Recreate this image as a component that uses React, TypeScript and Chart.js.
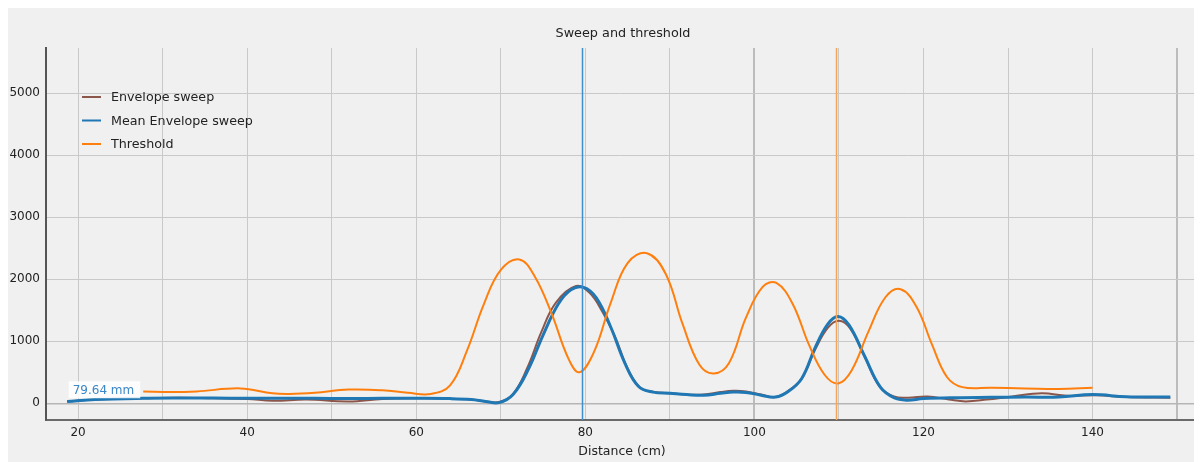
import React, { useEffect, useRef } from "react";
import { Chart, registerables } from "chart.js";

Chart.register(...registerables);

const chartTitle = "Sweep and threshold";
const xAxisTitle = "Distance (cm)";
const markerLabel = "79.64 mm";
const markerBlueX = 79.64;
const markerOrangeX = 109.7;

const xGridTicks = [20, 30, 40, 50, 60, 70, 80, 90, 100, 110, 120, 130, 140, 150];
const yTicks = [0, 1000, 2000, 3000, 4000, 5000];

const envX = [18.7, 22, 27.7, 32, 36, 40, 43, 47, 52, 56, 60, 64, 66.5, 68.2, 69.8, 71.4, 73.1, 74.8, 76.5, 78.9, 80.5, 82, 83.5, 85, 86.5, 88.2, 90, 92, 94, 96, 97.5, 99, 100.8, 102.5, 104, 105.6, 107.2, 108.7, 110, 111.3, 113, 114.8, 116.5, 118.2, 120.5, 123, 125, 127.5, 130.5, 134, 137, 140.5, 144, 149.2];
const envY = [30, 60, 80, 90, 80, 70, 40, 60, 30, 70, 80, 75, 60, 30, 20, 140, 560, 1150, 1620, 1890, 1780, 1480, 1080, 560, 250, 180, 160, 140, 140, 180, 200, 190, 140, 100, 200, 400, 870, 1220, 1330, 1210, 760, 270, 110, 90, 110, 60, 30, 60, 110, 160, 120, 130, 100, 90];

const meanX = [18.7, 22, 27.7, 32, 36, 40, 44, 48, 52, 56, 60, 64, 66.5, 68.2, 69.8, 71.5, 73.3, 75, 76.8, 78.3, 79.8, 81.3, 83, 84.7, 86.3, 88, 90, 92, 94, 96, 97.5, 99, 100.8, 102.5, 104, 105.6, 107.2, 108.7, 109.9, 111.2, 113, 114.9, 116.5, 118, 120, 124, 128, 132, 136, 140, 144, 149.2];
const meanY = [30, 60, 80, 85, 85, 80, 80, 80, 75, 80, 80, 75, 60, 30, 10, 150, 560, 1100, 1600, 1830, 1870, 1700, 1230, 640, 270, 180, 160, 140, 130, 160, 180, 175, 130, 100, 190, 400, 900, 1280, 1400, 1260, 770, 260, 90, 50, 75, 90, 95, 100, 100, 140, 105, 100];

const thrX = [27.7, 31, 34, 39.2, 43, 45, 48, 52, 56, 59, 61.7, 64, 66, 68, 70, 72.2, 74, 76, 78, 79.3, 81, 83, 85, 87.3, 89.5, 91.5, 93.5, 95.2, 97, 99, 101, 102.6, 104.5, 106.5, 108.3, 109.9, 111.5, 113.5, 115.5, 117.3, 119.2, 121, 122.8, 124.6, 128, 132, 136, 140];
const thrY = [190, 180, 190, 240, 160, 150, 170, 220, 210, 170, 150, 290, 850, 1600, 2150, 2320, 2050, 1450, 720, 500, 820, 1620, 2260, 2420, 2090, 1280, 620, 480, 650, 1380, 1880, 1940, 1610, 930, 460, 320, 530, 1160, 1710, 1840, 1550, 950, 420, 260, 250, 240, 230, 250];

const seriesNames = ["Envelope sweep", "Mean Envelope sweep", "Threshold"];
const seriesColors = ["#8c564b", "#1f77b4", "#ff7f0e"];

const FONT = "'DejaVu Sans', sans-serif";

const zip = (xs: number[], ys: number[]) => xs.map((x, i) => ({ x, y: ys[i] }));

const overlayPlugin = {
  id: "overlay",
  afterDatasetsDraw(chart: any) {
    const { ctx, chartArea, scales } = chart;
    const xs = scales.x;
    const ys = scales.y;
    ctx.save();
    const drawV = (v: number, color: string) => {
      const px = Math.round(xs.getPixelForValue(v)) + 0.5;
      ctx.strokeStyle = color;
      ctx.lineWidth = 1.5;
      ctx.beginPath();
      ctx.moveTo(px, chartArea.top);
      ctx.lineTo(px, chartArea.bottom);
      ctx.stroke();
    };
    drawV(markerBlueX, "#3d8fd1");
    drawV(markerOrangeX, "#f5a55a");

    ctx.font = `12px ${FONT}`;
    const lx = xs.getPixelForValue(19) - 1;
    const ly = ys.getPixelForValue(0) - 5;
    const tw = ctx.measureText(markerLabel).width;
    ctx.fillStyle = "rgba(255,255,255,0.85)";
    ctx.fillRect(lx, ly - 17, tw + 10, 17);
    ctx.fillStyle = "#3a86c8";
    ctx.textBaseline = "alphabetic";
    ctx.textAlign = "left";
    ctx.fillText(markerLabel, lx + 4, ly - 4);

    const legX = chartArea.left + 36;
    const legY = chartArea.top + 49;
    seriesNames.forEach((name, i) => {
      const y = legY + i * 23.5;
      ctx.strokeStyle = seriesColors[i];
      ctx.lineWidth = 2;
      ctx.beginPath();
      ctx.moveTo(legX, y);
      ctx.lineTo(legX + 19, y);
      ctx.stroke();
      ctx.fillStyle = "#222";
      ctx.textBaseline = "middle";
      ctx.font = `12.7px ${FONT}`;
      ctx.fillText(name, legX + 29, y + 1);
    });

    const cx = (chartArea.left + chartArea.right) / 2;
    ctx.textAlign = "center";
    ctx.textBaseline = "middle";
    ctx.fillStyle = "#222";
    ctx.font = `12.8px ${FONT}`;
    ctx.fillText(chartTitle, cx + 3, chartArea.top - 14);
    ctx.font = `12.5px ${FONT}`;
    ctx.fillText(xAxisTitle, cx + 2, chartArea.bottom + 32);
    ctx.restore();
  },
};

export default function App() {
  const ref = useRef<HTMLCanvasElement | null>(null);
  useEffect(() => {
    if (!ref.current) return;
    const chart = new Chart(ref.current, {
      type: "line",
      data: {
        datasets: [
          {
            label: seriesNames[0],
            data: zip(envX, envY),
            borderColor: seriesColors[0],
            borderWidth: 2,
            pointRadius: 0,
            tension: 0.4,
            order: 2,
          },
          {
            label: seriesNames[1],
            data: zip(meanX, meanY),
            borderColor: seriesColors[1],
            borderWidth: 3,
            pointRadius: 0,
            tension: 0.4,
            order: 1,
          },
          {
            label: seriesNames[2],
            data: zip(thrX, thrY),
            borderColor: seriesColors[2],
            borderWidth: 2,
            pointRadius: 0,
            tension: 0.4,
            order: 0,
          },
        ],
      },
      options: {
        animation: false,
        responsive: true,
        maintainAspectRatio: false,
        layout: { padding: { left: 0, top: 40, right: 8, bottom: 0 } },
        plugins: {
          legend: { display: false },
          tooltip: { enabled: false },
          title: { display: false },
        },
        scales: {
          x: {
            type: "linear",
            min: 16.2,
            max: 152,
            afterBuildTicks: (s: any) => {
              s.ticks = xGridTicks.map((v) => ({ value: v }));
            },
            afterFit: (s: any) => {
              s.height = 42;
            },
            ticks: {
              autoSkip: false,
              maxRotation: 0,
              padding: 6,
              color: "#222",
              font: { family: FONT, size: 12 },
              callback: (v: any) => (Number(v) % 20 === 0 ? String(v) : ""),
            },
            grid: {
              drawTicks: false,
              color: (c: any) =>
                c.tick && (c.tick.value === 100 || c.tick.value === 150) ? "#bcbcbc" : "#c9c9c9",
              lineWidth: (c: any) =>
                c.tick && (c.tick.value === 100 || c.tick.value === 150) ? 2 : 1,
            },
            border: { display: true, color: "#6a6a6a", width: 2 },
          },
          y: {
            type: "linear",
            min: -270,
            max: 5730,
            afterBuildTicks: (s: any) => {
              s.ticks = yTicks.map((v) => ({ value: v }));
            },
            afterFit: (s: any) => {
              s.width = 41;
            },
            ticks: {
              padding: 6,
              color: "#222",
              font: { family: FONT, size: 12 },
              callback: (v: any) => String(v),
            },
            grid: {
              drawTicks: false,
              color: (c: any) => (c.tick && c.tick.value === 0 ? "#b5b5b5" : "#c9c9c9"),
              lineWidth: (c: any) => (c.tick && c.tick.value === 0 ? 1.5 : 1),
            },
            border: { display: true, color: "#555", width: 2 },
          },
        },
      },
      plugins: [overlayPlugin],
    } as any);
    return () => chart.destroy();
  }, []);
  return (
    <div
      style={{
        marginLeft: -3,
        width: 1197,
        height: 454,
        background: "#f0f0f0",
        position: "relative",
      }}
    >
      <canvas ref={ref} />
    </div>
  );
}
